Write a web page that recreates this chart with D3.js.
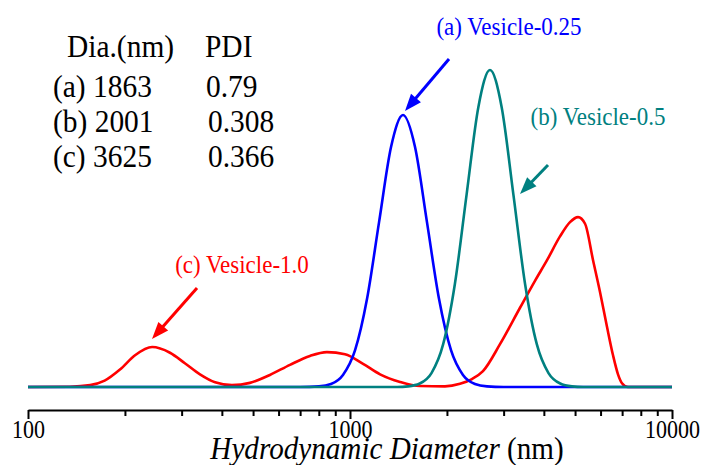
<!DOCTYPE html>
<html>
<head>
<meta charset="utf-8">
<script src="https://cdn.jsdelivr.net/npm/d3@7"></script>
<style>
  body { margin: 0; background: #fff; }
  svg { display: block; }
  text { font-family: "Liberation Serif", "Times New Roman", serif; }
</style>
</head>
<body>
<div id="svg-container"></div>
<script>
// size distributions (diameter in nm, intensity in arbitrary units)
var diaRed = [100, 135, 156, 173, 193, 215, 243, 276, 307, 342, 381, 430, 489, 564, 651, 751, 848, 965, 1098, 1240, 1430, 1650, 1972, 2196, 2392, 2588, 2923, 3373, 3754, 4092, 4489, 4822, 5107, 5370, 5686, 5976, 6282, 6559, 6797, 6994, 7300, 10000];
var intRed = [0, 0.1, 0.6, 2.0, 5.5, 10.0, 12.6, 10.8, 7.5, 4.0, 1.5, 0.6, 1.3, 3.8, 7.0, 9.8, 11.0, 10.3, 7.3, 4.0, 1.6, 0.3, 0.2, 1.0, 2.5, 5.0, 13.5, 25, 33.5, 40, 47.5, 52, 53.6, 51.5, 40, 30, 19, 10, 4, 1.2, 0, 0];

var diaBlue = [100, 700, 801, 873, 951, 1037, 1130, 1231, 1341, 1461, 1592, 1734, 1889, 2059, 2243, 2444, 2663, 3000, 10000];
var intBlue = [0, 0, 0.2, 0.95, 3.8, 11.6, 27.9, 52.0, 75.7, 85.8, 75.7, 52.0, 27.9, 11.6, 3.8, 0.95, 0.2, 0, 0];

var diaTeal = [100, 1400, 1515, 1647, 1791, 1947, 2117, 2302, 2503, 2721, 2959, 3217, 3497, 3803, 4135, 4495, 4888, 5300, 10000];
var intTeal = [0, 0, 0.2, 1.1, 4.4, 13.5, 32.5, 60.7, 88.2, 100, 88.2, 60.7, 32.5, 13.5, 4.4, 1.1, 0.2, 0, 0];

var seriesNames = ["(c) Vesicle-1.0", "(a) Vesicle-0.25", "(b) Vesicle-0.5"];
var seriesColors = ["#ff0000", "#0000ff", "#008080"];

var tableHead = ["Dia.(nm)", "PDI"];
var tableLabels = ["(a) 1863", "(b) 2001", "(c) 3625"];
var tablePdi = ["0.79", "0.308", "0.366"];

var majorTicks = [100, 1000, 10000];
var minorTicks = [200, 300, 400, 500, 600, 700, 800, 900, 2000, 3000, 4000, 5000, 6000, 7000, 8000, 9000];

var width = 704,
    height = 465;

var serif = "Liberation Serif";

var svg = d3.select("#svg-container")
  .append("svg")
    .attr("width", width)
    .attr("height", height);

var x = d3.scaleLog()
    .domain([100, 10000])
    .range([28, 672]);

var y = d3.scaleLinear()
    .domain([0, 100])
    .range([387, 70]);

// axis
var axis = d3.axisBottom(x)
    .tickValues(majorTicks.concat(minorTicks))
    .tickSizeOuter(0)
    .tickFormat(function(d) { return majorTicks.indexOf(d) >= 0 ? d : ""; });

var gx = svg.append("g")
    .attr("transform", "translate(0,410)")
    .call(axis);

gx.attr("font-family", null);
gx.select(".domain").attr("stroke-width", 2);
gx.selectAll(".tick line")
    .attr("stroke-width", 2)
    .attr("y2", function(d) { return majorTicks.indexOf(d) >= 0 ? 9 : 6; });
gx.selectAll(".tick text")
    .style("font-family", serif)
    .style("font-size", "25px")
    .attr("fill", "#000")
    .attr("y", 0)
    .attr("dy", 0)
    .attr("transform", "translate(0,28) scale(0.88,1)");

var title = svg.append("text")
    .attr("text-anchor", "middle")
    .style("font-family", serif)
    .style("font-size", "31px")
    .attr("transform", "translate(387,459) scale(0.94,1)");
title.append("tspan").style("font-style", "italic").text("Hydrodynamic Diameter");
title.append("tspan").text(" (nm)");

// curves
var line = d3.line()
    .x(function(d) { return x(d[0]); })
    .y(function(d) { return y(d[1]); })
    .curve(d3.curveMonotoneX);

var series = [
  d3.zip(diaRed, intRed),
  d3.zip(diaBlue, intBlue),
  d3.zip(diaTeal, intTeal)
];

svg.selectAll(".curve")
  .data(series)
  .enter().append("path")
    .attr("class", "curve")
    .attr("fill", "none")
    .attr("stroke", function(d, i) { return seriesColors[i]; })
    .attr("stroke-width", 2.6)
    .attr("stroke-linejoin", "round")
    .attr("d", line);

// annotations with arrows
var notes = [
  {text: seriesNames[0], color: seriesColors[0], tx: 242, ty: 273, from: [197, 288], to: [152, 339]},
  {text: seriesNames[1], color: seriesColors[1], tx: 509, ty: 35, from: [449, 59], to: [405, 111]},
  {text: seriesNames[2], color: seriesColors[2], tx: 598, ty: 125, from: [548, 165], to: [520, 194]}
];

function arrow(g, n) {
  var dx = n.to[0] - n.from[0], dy = n.to[1] - n.from[1];
  var len = Math.sqrt(dx * dx + dy * dy);
  var ux = dx / len, uy = dy / len;
  var hl = 17, hw = 6.5;
  var bx = n.to[0] - ux * hl, by = n.to[1] - uy * hl;
  g.append("line")
      .attr("x1", n.from[0]).attr("y1", n.from[1])
      .attr("x2", bx + ux * 2).attr("y2", by + uy * 2)
      .attr("stroke", n.color)
      .attr("stroke-width", 3);
  g.append("path")
      .attr("fill", n.color)
      .attr("d", "M" + n.to[0] + "," + n.to[1] +
                 "L" + (bx - uy * hw) + "," + (by + ux * hw) +
                 "L" + (bx + uy * hw) + "," + (by - ux * hw) + "Z");
}

notes.forEach(function(n) {
  var g = svg.append("g");
  g.append("text")
      .attr("text-anchor", "middle")
      .style("font-family", serif)
      .style("font-size", "25px")
      .attr("fill", n.color)
      .attr("transform", "translate(" + n.tx + "," + n.ty + ") scale(0.92,1)")
      .text(n.text);
  arrow(g, n);
});

// table of sizes
var table = svg.append("g")
    .attr("fill", "#000");

function cell(t, px, py) {
  table.append("text")
      .style("font-family", serif)
      .style("font-size", "31px")
      .attr("transform", "translate(" + px + "," + py + ") scale(0.95,1)")
      .text(t);
}

cell(tableHead[0], 67, 57);
cell(tableHead[1], 205, 57);

tableLabels.forEach(function(t, i) {
  var yy = 97 + i * 35;
  cell(t, 53, yy);
  cell(tablePdi[i], i == 0 ? 206 : 208, yy);
});
</script>
</body>
</html>
